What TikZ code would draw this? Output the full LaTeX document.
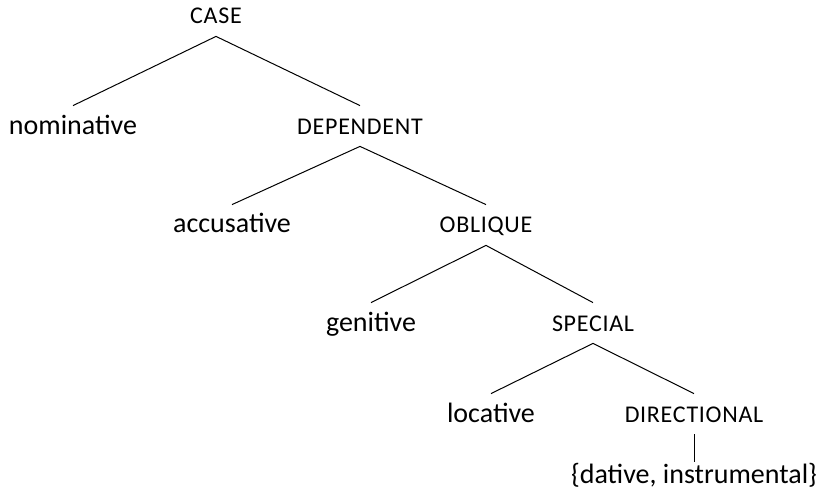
\documentclass[tikz,border=0pt]{standalone}
\usepackage{fontspec}
\setmainfont{Carlito}
\newfontfamily\capsfont[LetterSpace=3]{Carlito}
\newcommand{\mysc}[1]{{\capsfont\fontsize{12pt}{14pt}\selectfont #1}}
\begin{document}
\begin{tikzpicture}[x=0.5pt,y=-0.5pt,
  lbl/.style={anchor=base,font=\fontsize{14pt}{16pt}\selectfont,text height=10pt,text depth=2pt,inner xsep=0pt,inner ysep=4pt},
  leaf/.style={lbl,inner ysep=0.5pt},
  edge/.style={draw=black,line width=0.5pt}]
\useasboundingbox (0,0) rectangle (836,492);
\node[lbl] (case) at (216,24) {\mysc{CASE}};
\node[lbl] (nom) at (73,134) {nominative};
\node[lbl] (dep) at (360,134) {\mysc{DEPENDENT}};
\node[lbl] (acc) at (232,233) {accusative};
\node[lbl] (obl) at (486,233) {\mysc{OBLIQUE}};
\node[lbl] (gen) at (371,331) {genitive};
\node[lbl] (spe) at (593,331) {\mysc{SPECIAL}};
\node[lbl] (loc) at (491,422) {locative};
\node[lbl] (dir) at (694,422) {\mysc{DIRECTIONAL}};
\node[leaf] (dat) at (694,483) {\{dative, instrumental\}};
\draw[edge] (case.south) -- (nom.north);
\draw[edge] (case.south) -- (dep.north);
\draw[edge] (dep.south) -- (acc.north);
\draw[edge] (dep.south) -- (obl.north);
\draw[edge] (obl.south) -- (gen.north);
\draw[edge] (obl.south) -- (spe.north);
\draw[edge] (spe.south) -- (loc.north);
\draw[edge] (spe.south) -- (dir.north);
\draw[edge] (dir.south) -- (dat.north);
\end{tikzpicture}
\end{document}
